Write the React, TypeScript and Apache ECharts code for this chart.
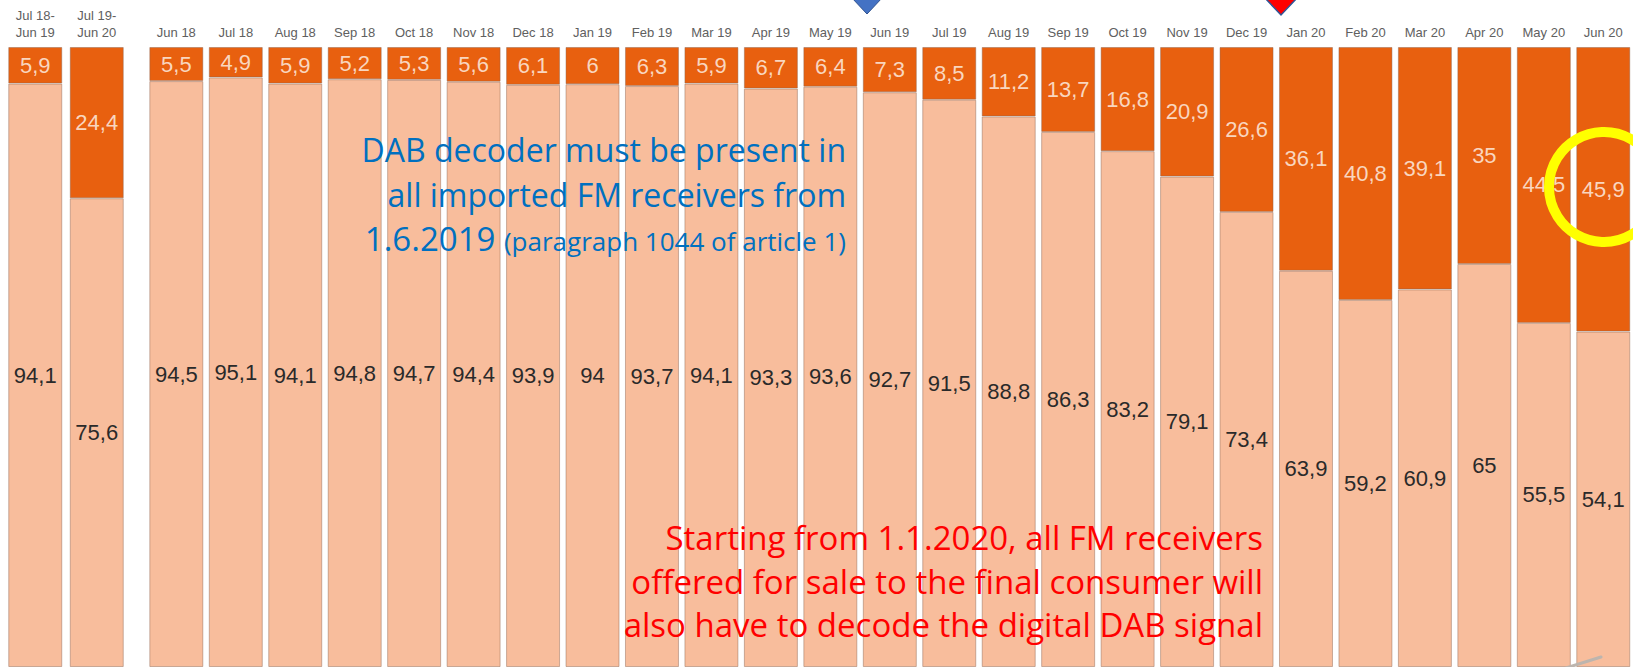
import React, { useEffect, useRef } from "react";
import * as echarts from "echarts";

const periodCategories = ["Jul 18-\nJun 19", "Jul 19-\nJun 20"];
const periodFmOnly = [94.1, 75.6];
const periodDab = [5.9, 24.4];

const monthCategories = [
  "Jun 18", "Jul 18", "Aug 18", "Sep 18", "Oct 18", "Nov 18", "Dec 18",
  "Jan 19", "Feb 19", "Mar 19", "Apr 19", "May 19", "Jun 19", "Jul 19",
  "Aug 19", "Sep 19", "Oct 19", "Nov 19", "Dec 19", "Jan 20", "Feb 20",
  "Mar 20", "Apr 20", "May 20", "Jun 20",
];
const monthFmOnly = [
  94.5, 95.1, 94.1, 94.8, 94.7, 94.4, 93.9, 94, 93.7, 94.1, 93.3, 93.6, 92.7,
  91.5, 88.8, 86.3, 83.2, 79.1, 73.4, 63.9, 59.2, 60.9, 65, 55.5, 54.1,
];
const monthDab = [
  5.5, 4.9, 5.9, 5.2, 5.3, 5.6, 6.1, 6, 6.3, 5.9, 6.7, 6.4, 7.3, 8.5, 11.2,
  13.7, 16.8, 20.9, 26.6, 36.1, 40.8, 39.1, 35, 44.5, 45.9,
];

const blueNote = [
  "DAB decoder must be present in",
  "all imported FM receivers from",
];
const blueNoteDate = "1.6.2019";
const blueNoteRef = "(paragraph 1044 of article 1)";
const redNote = [
  "Starting from 1.1.2020, all FM receivers",
  "offered for sale to the final consumer will",
  "also have to decode the digital DAB signal",
];

const DARK = "#E8600F";
const LIGHT = "#F8BD9C";
const BORDER = "rgba(140,100,80,0.45)";
const fmt = (p: any) => String(p.value).replace(".", ",");

const axisLabelStyle = {
  interval: 0,
  margin: 6,
  color: "#606060",
  fontSize: 13,
  lineHeight: 17,
  fontFamily: "Liberation Sans, Arial, sans-serif",
};

const barLabel = (color: string) => ({
  show: true,
  position: "inside",
  color,
  fontSize: 22,
  fontFamily: "Liberation Sans, Arial, sans-serif",
  formatter: fmt,
});

function makeSeries(xi: number, fm: number[], dab: number[], stack: string) {
  return [
    {
      type: "bar",
      xAxisIndex: xi,
      yAxisIndex: xi,
      stack,
      barWidth: 54,
      data: fm,
      itemStyle: { color: LIGHT, borderColor: BORDER, borderWidth: 1 },
      label: barLabel("#2a2a2a"),
    },
    {
      type: "bar",
      xAxisIndex: xi,
      yAxisIndex: xi,
      stack,
      barWidth: 54,
      data: dab,
      itemStyle: { color: DARK, borderColor: BORDER, borderWidth: 1 },
      label: barLabel("#F9D6BF"),
    },
  ];
}

const noteFont = "Open Sans, sans-serif";

export default function App() {
  const ref = useRef<HTMLDivElement>(null);
  useEffect(() => {
    const chart = echarts.init(ref.current!, null, { renderer: "svg" });
    const xBase = {
      type: "category",
      position: "top",
      axisLine: { show: false },
      axisTick: { show: false },
      axisLabel: axisLabelStyle,
    };
    const textEl = (text: string, x: number, y: number, fill: string, size: number) => ({
      type: "text",
      z: 100,
      x,
      y,
      style: {
        text,
        fill,
        fontSize: size,
        fontFamily: noteFont,
        align: "right",
        verticalAlign: "middle",
        textAlign: "right",
        textVerticalAlign: "middle",
      },
    });
    chart.setOption({
      animation: false,
      backgroundColor: "#ffffff",
      grid: [
        { left: 4.5, top: 47, width: 123, height: 621 },
        { left: 146.6, top: 47, width: 1495, height: 621 },
      ],
      xAxis: [
        { ...xBase, gridIndex: 0, data: periodCategories },
        { ...xBase, gridIndex: 1, data: monthCategories },
      ],
      yAxis: [
        { type: "value", gridIndex: 0, min: 0, max: 100, show: false },
        { type: "value", gridIndex: 1, min: 0, max: 100, show: false },
      ],
      series: [
        ...makeSeries(0, periodFmOnly, periodDab, "period"),
        ...makeSeries(1, monthFmOnly, monthDab, "month"),
      ],
      graphic: [
        textEl(blueNote[0], 846, 149, "#0070C0", 32),
        textEl(blueNote[1], 846, 194, "#0070C0", 32),
        {
          type: "text",
          z: 100,
          x: 846,
          y: 238,
          style: {
            text: "{a|" + blueNoteDate + "} {b|" + blueNoteRef + "}",
            align: "right",
            verticalAlign: "middle",
            textAlign: "right",
            textVerticalAlign: "middle",
            fill: "#0070C0",
            fontFamily: noteFont,
            fontSize: 33,
            rich: {
              a: { fontSize: 33, fontFamily: noteFont, fill: "#0070C0", color: "#0070C0" },
              b: { fontSize: 26, fontFamily: noteFont, fill: "#0070C0", color: "#0070C0", padding: [5, 0, 0, 0] },
            },
          },
        },
        textEl(redNote[0], 1263, 537, "#FF0000", 33),
        textEl(redNote[1], 1263, 581, "#FF0000", 33),
        textEl(redNote[2], 1263, 624, "#FF0000", 33),
        {
          type: "polygon",
          z: 100,
          shape: { points: [[852, -2], [882, -2], [867, 14]] },
          style: { fill: "#4472C4", stroke: "#2F528F", lineWidth: 1 },
        },
        {
          type: "polygon",
          z: 100,
          shape: { points: [[1265, -2], [1297, -2], [1281, 15]] },
          style: { fill: "#FF0000", stroke: "#2F5597", lineWidth: 1.5 },
        },
        {
          type: "circle",
          z: 100,
          shape: { cx: 1604, cy: 187, r: 55 },
          style: { fill: "none", stroke: "#FFFF00", lineWidth: 10 },
        },
        {
          type: "line",
          z: 100,
          shape: { x1: 1566, y1: 668, x2: 1601, y2: 657 },
          style: { stroke: "#bdb5ae", lineWidth: 3, lineCap: "round" },
        },
      ],
    });
    return () => chart.dispose();
  }, []);
  return (
    <div
      ref={ref}
      style={{ position: "fixed", left: 0, top: 0, width: 1633, height: 667, background: "#fff" }}
    />
  );
}
